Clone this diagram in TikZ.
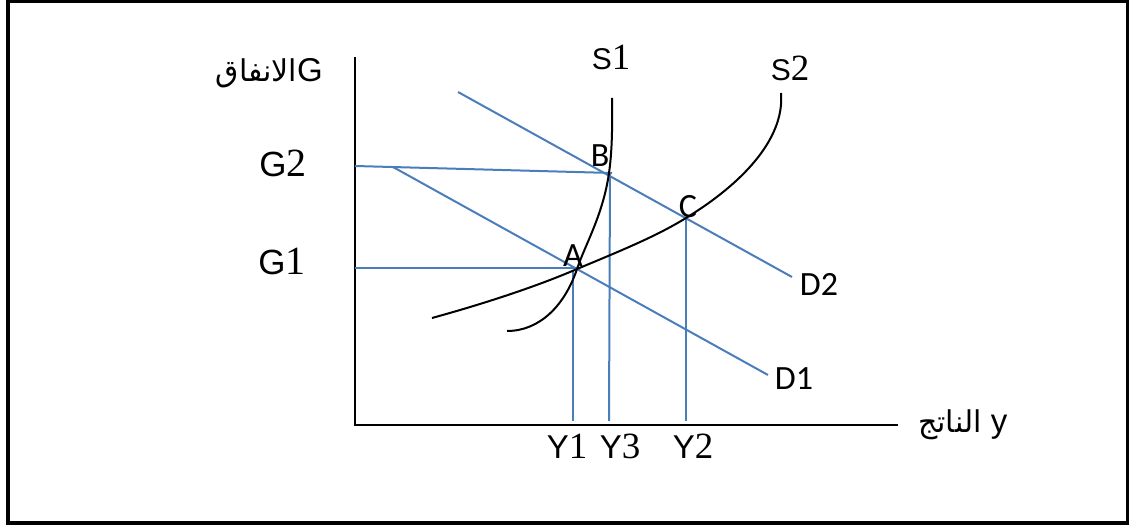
\documentclass[tikz,border=0pt]{standalone}
\usepackage{fontspec}
\setmainfont{Liberation Sans}
\newfontfamily\serifdig{Liberation Serif}
\newfontfamily\calib{Carlito}
\newfontfamily\arabicfont[Script=Arabic]{DejaVu Sans}
\TeXXeTstate=1
\definecolor{lineblue}{RGB}{74,126,187}
\tikzset{
  axisline/.style={black, line width=2.5pt},
  blueline/.style={lineblue, line width=2pt},
  curveline/.style={black, line width=2pt},
  lbl/.style={inner sep=0pt, font=\fontsize{33}{37}\selectfont},
  glbl/.style={inner sep=0pt, font=\fontsize{35}{39}\selectfont},
  slbl/.style={inner sep=0pt, font=\fontsize{30}{34}\selectfont},
  clbl/.style={inner sep=0pt, font=\calib\fontsize{34}{38}\selectfont},
}
\newcommand{\dg}[1]{{\serifdig\fontsize{37}{40}\selectfont #1}}
\newcommand{\gdg}[1]{{\serifdig\fontsize{40}{44}\selectfont #1}}
\begin{document}
\begin{tikzpicture}[x=1pt,y=-1pt]
\useasboundingbox (0,0) rectangle (1129,526);
\draw[line width=4pt] (7.5,1.5) rectangle (1127.5,522.5);

% coordinates
\coordinate (O) at (355,425);
\coordinate (Ytop) at (355,57);
\coordinate (Xend) at (898,425);
\coordinate (A) at (577,268);
\coordinate (B) at (610,173);
\coordinate (C) at (686,218);
\coordinate (G2L) at (355,166);
\coordinate (G1L) at (355,268);
\coordinate (D1s) at (393,167);
\coordinate (D1e) at (768,375);
\coordinate (D2s) at (458,92);
\coordinate (D2e) at (792,277);
\coordinate (Y1t) at (573,271);
\coordinate (Y1b) at (573,421);
\coordinate (Y3b) at (609,421);
\coordinate (Y2b) at (686,421);
\coordinate (G2e) at (612,173);

% axes
\draw[axisline] (Ytop) -- (O) -- (Xend);

% blue lines
\draw[blueline] (G2L) -- (G2e);
\draw[blueline] (G1L) -- (A);
\draw[blueline] (D1s) -- (D1e);
\draw[blueline] (D2s) -- (D2e);
\draw[blueline] (Y1t) -- (Y1b);
\draw[blueline] (B) -- (Y3b);
\draw[blueline] (C) -- (Y2b);

% supply curves
\draw[curveline] (507,331) .. controls (540,331) and (565,305) .. (577,269)
  .. controls (585,245) and (603,215) .. (609,173)
  .. controls (613,145) and (612,115) .. (612,98);
\draw[curveline] (432,318) .. controls (490,302) and (540,285) .. (577,269)
  .. controls (620,251) and (655,237) .. (686,218)
  .. controls (740,185) and (785,140) .. (781,93);

% labels
\node[lbl, anchor=east] (Glab) at (323,73) {{\arabicfont\fontsize{30}{34}\selectfont\beginR الانفاق\endR}G};
\node[slbl] (S1lab) at (611,57) {S\dg{1}};
\node[slbl] (S2lab) at (790,68) {S\dg{2}};
\node[glbl] (G2lab) at (283,163) {G\gdg{2}};
\node[glbl] (G1lab) at (282,261) {G\gdg{1}};
\node[clbl] (Blab) at (600,156) {B};
\node[clbl] (Clab) at (688,207) {C};
\node[clbl] (Alab) at (573,256) {A};
\node[clbl] (D2lab) at (819,284) {D2};
\node[clbl] (D1lab) at (794,379) {D1};
\node[lbl] (Y1lab) at (567,446) {Y\dg{1}};
\node[lbl] (Y3lab) at (620,446) {Y\dg{3}};
\node[lbl] (Y2lab) at (693,446) {Y\dg{2}};
\node[lbl, anchor=west] (Xlab) at (918,425) {{\arabicfont\fontsize{30}{34}\selectfont\beginR الناتج\endR} y};
\end{tikzpicture}
\end{document}
